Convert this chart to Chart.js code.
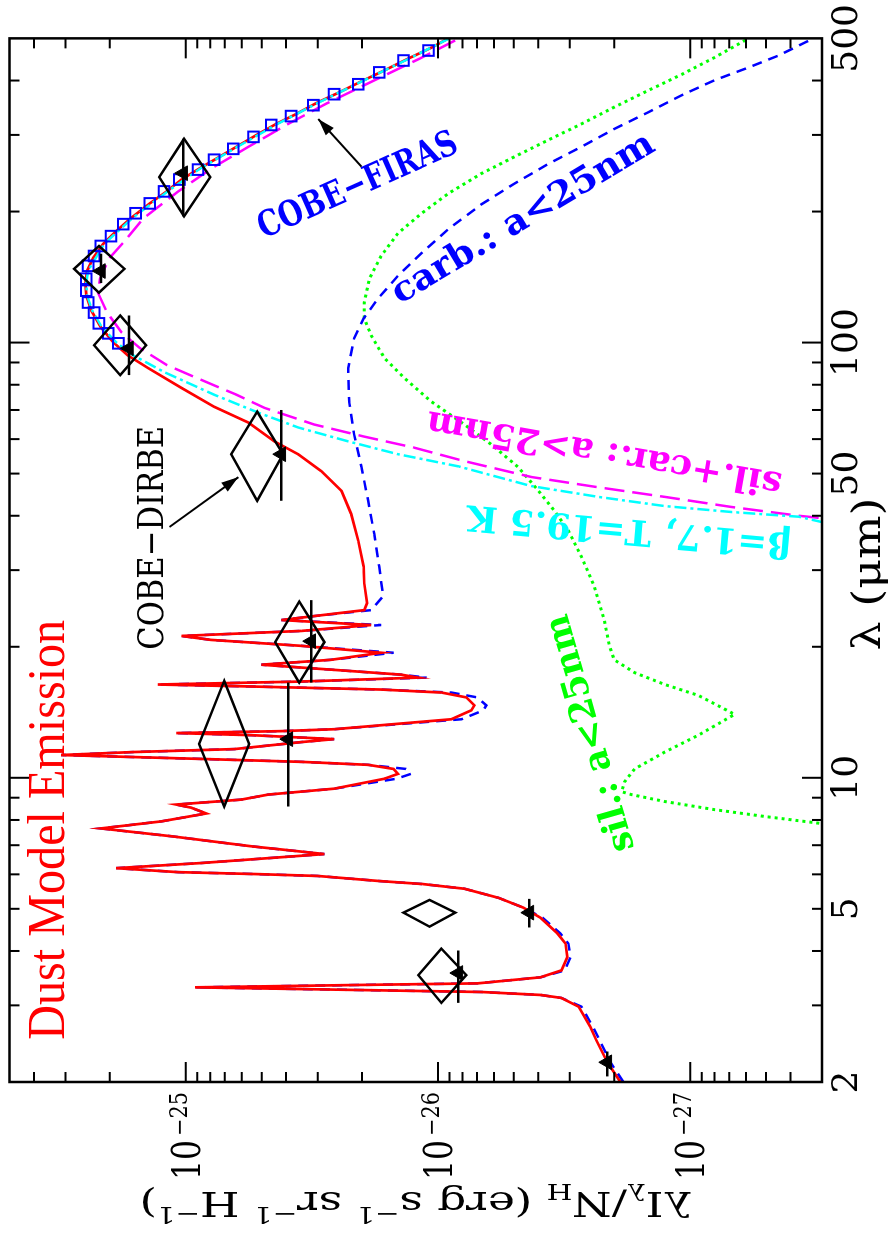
<!DOCTYPE html>
<html><head><meta charset="utf-8">
<script src="https://cdn.jsdelivr.net/npm/chart.js@4"></script>
<style>
html,body{margin:0;padding:0;background:#fff;overflow:hidden;width:895px;height:1240px;}
#wrap{position:absolute;left:0;top:0;width:1240px;height:895px;transform-origin:0 0;transform:translate(0,1240px) rotate(-90deg);}
canvas{display:block}
</style></head><body>
<div id="wrap"><canvas id="c" width="1240" height="895"></canvas></div>
<script>
// ---------- data (wavelength in micron, lambda*I_lambda/N_H in erg s^-1 sr^-1 H^-1) ----------
const totalLam = [2.0,2.22,2.5,2.68,2.98,3.12,3.17,3.22,3.27,3.30,3.34,3.37,3.48,3.61,3.87,4.16,4.39,4.77,5.03,5.30,5.56,5.70,5.79,5.95,6.01,6.07,6.20,6.37,6.68,6.96,7.34,7.65,7.94,8.28,8.54,8.68,8.91,9.15,9.44,9.95,10.21,10.48,10.71,10.88,11.05,11.28,11.46,11.64,12.08,12.27,12.53,12.67,12.80,12.93,13.63,14.29,14.67,15.30,15.70,15.95,16.21,16.38,16.64,16.99,17.26,17.72,18.19,18.67,19.38,20.10,20.74,21.18,21.75,22.44,23.04,23.53,24.28,25.19,27.98,30.59,35.06,40.41,45.59,50.63,55.36,59.27,65.46,71.20,78.66,87.38,93.55,100.2,108.4,118.5,128.2,136.5,146.2,156.5,168.4,180.3,193.1,208.8,222.5,236.9,251.0,264.5,281.7,300.0,317.9,335.0,354.8,375.9,398.4,422.0,449.4,476.2,500];
const totalI = [1.89e-27,2.13e-27,2.36e-27,2.49e-27,2.77e-27,3.24e-27,3.92e-27,6.73e-27,3.48e-26,9.19e-26,2.21e-26,6.98e-27,3.92e-27,3.24e-27,3.07e-27,3.12e-27,3.36e-27,3.92e-27,4.58e-27,5.76e-27,7.85e-27,1.15e-26,1.70e-26,3.01e-26,5.34e-26,1.07e-25,1.89e-25,8.69e-26,2.82e-26,5.49e-26,1.14e-25,2.17e-25,1.25e-25,8.30e-26,9.53e-26,1.09e-25,6.02e-26,4.71e-26,2.58e-26,1.63e-26,1.44e-26,1.50e-26,1.89e-26,3.48e-26,8.69e-26,3.12e-25,1.61e-25,6.42e-26,3.48e-26,2.58e-26,5.49e-26,1.09e-25,4.18e-26,2.58e-26,8.85e-27,7.37e-27,7.17e-27,7.71e-27,9.69e-27,1.68e-26,5.49e-26,1.29e-25,3.48e-26,1.20e-26,1.40e-26,2.65e-26,5.02e-26,2.65e-26,1.68e-26,3.48e-26,7.93e-26,1.04e-25,3.48e-26,1.84e-26,4.18e-26,3.09e-26,1.96e-26,1.91e-26,1.96e-26,1.97e-26,2.07e-26,2.21e-26,2.41e-26,2.90e-26,3.58e-26,4.45e-26,5.64e-26,7.72e-26,1.04e-25,1.41e-25,1.70e-25,1.94e-25,2.17e-25,2.37e-25,2.48e-25,2.50e-25,2.46e-25,2.33e-25,2.13e-25,1.89e-25,1.65e-25,1.39e-25,1.19e-25,1.04e-25,8.85e-26,7.57e-26,6.30e-26,5.24e-26,4.38e-26,3.65e-26,3.04e-26,2.46e-26,2.01e-26,1.63e-26,1.31e-26,1.06e-26,9.09e-27];

const carbLam = [2.0,2.22,2.5,2.68,2.98,3.12,3.17,3.22,3.27,3.30,3.34,3.37,3.48,3.61,3.87,4.16,4.39,4.77,5.03,5.30,5.56,5.70,5.79,5.95,6.01,6.07,6.20,6.37,6.68,6.96,7.34,7.65,7.94,8.28,8.54,8.68,8.91,9.15,9.44,9.95,10.21,10.48,10.71,10.88,11.05,11.28,11.46,11.64,12.08,12.27,12.53,12.67,12.80,12.93,13.63,14.29,14.67,15.30,15.70,15.95,16.21,16.38,16.64,16.99,17.26,17.72,18.19,18.67,19.38,20.10,20.74,21.18,21.75,22.44,23.04,23.53,24.28,26.13,30.59,36.37,43.25,51.70,61.48,73.10,87.38,102.3,113.6,126.2,142.4,160.6,182.3,207.7,232.0,257.6,281.7,309.6,338.6,370.1,400.6,428.7,456.6,488.9,500];
const carbI = [1.84e-27,2.07e-27,2.29e-27,2.43e-27,2.70e-27,3.24e-27,3.92e-27,6.73e-27,3.48e-26,9.19e-26,2.21e-26,6.98e-27,3.92e-27,3.14e-27,2.98e-27,3.04e-27,3.27e-27,3.85e-27,4.58e-27,5.76e-27,7.85e-27,1.15e-26,1.70e-26,3.01e-26,5.34e-26,1.07e-25,1.89e-25,8.69e-26,2.82e-26,5.49e-26,1.14e-25,2.17e-25,1.25e-25,8.30e-26,9.53e-26,1.09e-25,6.02e-26,4.71e-26,2.58e-26,1.46e-26,1.28e-26,1.34e-26,1.89e-26,3.48e-26,8.69e-26,3.12e-25,1.61e-25,6.42e-26,3.48e-26,2.58e-26,5.49e-26,1.09e-25,4.18e-26,2.58e-26,8.07e-27,6.61e-27,6.43e-27,6.98e-27,8.85e-27,1.68e-26,5.49e-26,1.29e-25,3.48e-26,1.11e-26,1.40e-26,2.65e-26,5.02e-26,2.65e-26,1.50e-26,3.48e-26,7.93e-26,1.04e-25,3.48e-26,1.68e-26,4.18e-26,3.09e-26,1.84e-26,1.65e-26,1.71e-26,1.79e-26,1.89e-26,2.01e-26,2.15e-26,2.25e-26,2.27e-26,2.15e-26,1.97e-26,1.73e-26,1.44e-26,1.16e-26,9.09e-27,6.73e-27,4.97e-27,3.64e-27,2.70e-27,2.00e-27,1.46e-27,1.08e-27,8.01e-28,5.86e-28,4.46e-28,3.51e-28,3.24e-28];

const bigLam = [39.15,39.5,40.0,41.9,44.2,46.5,49.1,53.4,57.4,60.8,64.8,70.8,75.9,82.1,88.8,97.1,105.6,117.2,130.2,140.2,155.7,172.9,193.1,222.5,251.0,281.7,317.9,354.8,398.4,449.4,500];
const bigI = [2.40e-28,3.01e-28,3.71e-28,6.85e-28,1.26e-27,2.31e-27,4.26e-27,7.85e-27,1.25e-26,1.96e-26,3.09e-26,4.88e-26,6.30e-26,8.69e-26,1.19e-25,1.52e-25,1.80e-25,2.05e-25,2.23e-25,2.19e-25,2.02e-25,1.72e-25,1.47e-25,1.07e-25,7.93e-26,5.64e-26,3.93e-26,2.75e-26,1.82e-26,1.18e-26,8.23e-27];

const bbLam = [38.3,38.7,39.8,40.8,42.1,44.2,46.8,51.95,55.4,59.3,63.8,69.0,75.9,85.6,93.55,100.2,108.4,118.5,128.2,136.5,146.2,168.4,193.1,222.5,251.0,281.7,317.9,354.8,398.4,449.4,500];
const bbI = [2.40e-28,3.01e-28,3.71e-28,6.85e-28,1.26e-27,2.31e-27,4.26e-27,8.30e-27,1.44e-26,2.27e-26,3.58e-26,5.15e-26,7.72e-26,1.22e-25,1.62e-25,1.89e-25,2.15e-25,2.35e-25,2.46e-25,2.48e-25,2.44e-25,2.11e-25,1.63e-25,1.18e-25,8.77e-26,6.24e-26,4.33e-26,3.01e-26,2.00e-26,1.30e-26,9.01e-27];

const silLam = [7.69,7.85,8.15,8.45,8.82,9.15,9.29,9.79,10.48,11.46,12.53,13.99,15.46,16.38,17.44,18.67,20.10,23.04,27.54,32.23,36.95,41.05,45.6,51.7,58.3,64.8,73.1,82.9,92.1,103.9,113.6,123.6,140.2,158.1,178.4,198.2,220.1,244.5,267.3,292.3,317.9,347.5,379.9,413.1,451.8,500];
const silI = [2.1e-28,3.01e-28,5.07e-28,8.01e-28,1.26e-27,1.71e-27,1.87e-27,1.82e-27,1.66e-27,1.26e-27,9.27e-28,6.66e-28,9.27e-28,1.26e-27,1.66e-27,2.00e-27,2.09e-27,2.19e-27,2.40e-27,2.70e-27,3.04e-27,3.45e-27,3.99e-27,4.80e-27,6.14e-27,7.85e-27,1.06e-26,1.36e-26,1.63e-26,1.84e-26,1.96e-26,1.96e-26,1.87e-26,1.68e-26,1.44e-26,1.16e-26,9.09e-27,6.73e-27,4.97e-27,3.64e-27,2.70e-27,2.00e-27,1.46e-27,1.08e-27,8.01e-28,5.86e-28];

const firasLam = [99.6,105.0,110.7,117.2,123.6,131.6,140.2,150.1,158.1,166.7,175.6,187.1,198.2,208.8,222.5,236.9,249.7,263.1,278.7,296.9,316.2,331.4,351.1,372.1,392.2,417.6,444.7,468.8];
const firasI = [1.85e-25,2.03e-25,2.21e-25,2.31e-25,2.44e-25,2.48e-25,2.48e-25,2.44e-25,2.31e-25,2.17e-25,1.98e-25,1.77e-25,1.58e-25,1.39e-25,1.22e-25,1.06e-25,8.94e-26,7.72e-26,6.48e-26,5.39e-26,4.58e-26,3.82e-26,3.12e-26,2.58e-26,2.07e-26,1.71e-26,1.37e-26,1.09e-26];

const dirbeLam   = [240,147.7,98.6,55.4,20.5,11.96,4.90,3.52];
const dirbeLamLo = [195,130.2,84.2,43.3,16.55,8.59,4.55,3.04];
const dirbeLamHi = [294,166.7,115.4,69.4,25.4,16.7,5.24,4.05];
const dirbeI     = [1.015e-25,2.21e-25,1.82e-25,5.21e-26,3.55e-26,7.04e-26,1.08e-26,9.69e-27];
const dirbeILo   = [7.99e-26,1.75e-25,1.436e-25,4.11e-26,2.82e-26,5.60e-26,8.53e-27,7.72e-27];
const dirbeIHi   = [1.275e-25,2.77e-25,2.31e-25,6.60e-26,4.42e-26,8.85e-26,1.37e-26,1.196e-26];

const obsLam   = [245,146,97,55.4,20.6,12.27,4.90,3.56,2.22];
const obsLamLo = [195,137,84.2,43.3,16.55,8.59,4.53,3.04,2.06];
const obsLamHi = [294,160,115.4,70,25.6,16.55,5.27,4.01,2.35];
const obsI     = [1.024e-25,2.17e-25,1.68e-25,4.18e-26,3.18e-26,3.92e-26,4.34e-27,8.30e-27,2.13e-27];

const xMinorTicks = [3,4,5,6,7,8,9,20,30,40,50,60,70,80,90,200,300,400];
const xMajorTicks = [10,100];
const xTickLabels = [2,5,10,50,100,500];
const yMinorTicks = [4e-28,5e-28,6e-28,7e-28,8e-28,9e-28,2e-27,3e-27,4e-27,5e-27,6e-27,7e-27,8e-27,9e-27,2e-26,3e-26,4e-26,5e-26,6e-26,7e-26,8e-26,9e-26,2e-25,3e-25,4e-25];
const yMajorTicks = [1e-27,1e-26,1e-25];
const yLabelValues = [1e-25,1e-26,1e-27];
const yLabelExps = ['\u221225','\u221226','\u221227'];

// ---------- helpers ----------
const pts = (L, I) => L.map((l, i) => ({x: l, y: I[i]}));
const SERIF = "'DejaVu Serif', serif";

function drawFit(ctx, text, x, y, o) {
  ctx.save();
  const w8 = o.weight || 'normal';
  ctx.font = w8 + ' 100px ' + o.family;
  const cap = ctx.measureText('H').actualBoundingBoxAscent / 100;
  const size = o.capH / cap;
  ctx.font = w8 + ' ' + size.toFixed(2) + 'px ' + o.family;
  const w = ctx.measureText(text).width;
  const sx = o.width ? o.width / w : 1;
  ctx.translate(x, y);
  ctx.rotate((o.angle || 0) * Math.PI / 180);
  ctx.scale(sx, 1);
  ctx.textAlign = o.align || 'center';
  ctx.textBaseline = o.base || 'alphabetic';
  ctx.fillStyle = o.color || '#000';
  ctx.fillText(text, 0, 0);
  ctx.restore();
}

function arrow(ctx, x1, y1, x2, y2) {
  ctx.beginPath(); ctx.moveTo(x1, y1); ctx.lineTo(x2, y2); ctx.stroke();
  const a = Math.atan2(y2 - y1, x2 - x1), L = 17, W = 5.5;
  ctx.beginPath();
  ctx.moveTo(x2, y2);
  ctx.lineTo(x2 - L * Math.cos(a) + W * Math.sin(a), y2 - L * Math.sin(a) - W * Math.cos(a));
  ctx.lineTo(x2 - L * Math.cos(a) - W * Math.sin(a), y2 - L * Math.sin(a) + W * Math.cos(a));
  ctx.closePath(); ctx.fill();
}

const markers = {
  id: 'markers',
  afterDatasetsDraw(chart) {
    const {ctx, chartArea: a, scales: {x, y}} = chart;
    ctx.save();
    ctx.beginPath(); ctx.rect(a.left, a.top, a.right - a.left, a.bottom - a.top); ctx.clip();
    ctx.strokeStyle = '#000'; ctx.lineWidth = 2.5; ctx.lineJoin = 'miter';
    dirbeLam.forEach((l, k) => {
      const xl = x.getPixelForValue(dirbeLamLo[k]), xr = x.getPixelForValue(dirbeLamHi[k]);
      const xc = x.getPixelForValue(l), yc = y.getPixelForValue(dirbeI[k]);
      const yt = y.getPixelForValue(dirbeIHi[k]), yb = y.getPixelForValue(dirbeILo[k]);
      ctx.beginPath(); ctx.moveTo(xl, yc); ctx.lineTo(xc, yt); ctx.lineTo(xr, yc); ctx.lineTo(xc, yb); ctx.closePath(); ctx.stroke();
    });
    obsLam.forEach((l, k) => {
      const yy = y.getPixelForValue(obsI[k]);
      ctx.beginPath(); ctx.moveTo(x.getPixelForValue(obsLamLo[k]), yy); ctx.lineTo(x.getPixelForValue(obsLamHi[k]), yy); ctx.stroke();
    });
    ctx.restore();
  }
};

const frame = {
  id: 'frame',
  afterDraw(chart) {
    const {ctx, chartArea: a, scales: {x, y}} = chart;
    ctx.save();
    ctx.strokeStyle = '#000'; ctx.fillStyle = '#000';
    ctx.lineWidth = 2;
    const vt = (v, len) => { const p = x.getPixelForValue(v);
      ctx.beginPath(); ctx.moveTo(p, a.bottom); ctx.lineTo(p, a.bottom - len); ctx.moveTo(p, a.top); ctx.lineTo(p, a.top + len); ctx.stroke(); };
    const ht = (v, len) => { const p = y.getPixelForValue(v);
      ctx.beginPath(); ctx.moveTo(a.left, p); ctx.lineTo(a.left + len, p); ctx.moveTo(a.right, p); ctx.lineTo(a.right - len, p); ctx.stroke(); };
    xMinorTicks.forEach(v => vt(v, 10)); xMajorTicks.forEach(v => vt(v, 20));
    yMinorTicks.forEach(v => ht(v, 10)); yMajorTicks.forEach(v => ht(v, 20));
    ctx.lineWidth = 2.5;
    ctx.strokeRect(a.left, a.top, a.right - a.left, a.bottom - a.top);

    yLabelValues.forEach((v, k) => {
      const p = y.getPixelForValue(v);
      drawFit(ctx, '10', 100, p + 14, {family: SERIF, capH: 28, width: 40, align: 'right'});
      drawFit(ctx, yLabelExps[k], 104, p + 1, {family: SERIF, capH: 17, width: 44, align: 'left'});
    });

    drawFit(ctx, '\u03BB (\u03BCm)', 666, 880, {family: SERIF, capH: 29, width: 153});

    const segs = [['\u03BBI',0],['\u03BB',1],['/N',0],['H',1],[' (erg s',0],['\u22121',2],[' sr',0],['\u22121',2],[' H',0],['\u22121',2],[')',0]];
    const F = 34, f = 22;
    let W = 0;
    segs.forEach(s => { ctx.font = (s[1] ? f : F) + 'px ' + SERIF; W += ctx.measureText(s[0]).width; });
    const target = 553, sx = target / W;
    ctx.save();
    ctx.translate(48, (a.top + a.bottom) / 2);
    ctx.rotate(-Math.PI / 2);
    ctx.scale(sx, 1);
    ctx.textAlign = 'left'; ctx.textBaseline = 'alphabetic';
    let cx = -W / 2;
    segs.forEach(s => {
      ctx.font = (s[1] ? f : F) + 'px ' + SERIF;
      const dy = s[1] === 1 ? 8 : (s[1] === 2 ? -15 : 0);
      ctx.fillText(s[0], cx, dy);
      cx += ctx.measureText(s[0]).width;
    });
    ctx.restore();

    const px = (l, i) => [x.getPixelForValue(l), y.getPixelForValue(i)];
    let q;
    q = px(2.5, 3.04e-25);
    drawFit(ctx, 'Dust Model Emission', q[0], q[1], {family: "'Liberation Serif', serif", capH: 34, width: 420, align: 'left', color: '#ff0000'});
    q = px(19.68, 1.23e-25);
    drawFit(ctx, 'COBE\u2212DIRBE', q[0], q[1], {family: SERIF, capH: 26, width: 224, align: 'left', color: '#000'});
    q = px(228.4, 2.07e-26);
    drawFit(ctx, 'COBE\u2212FIRAS', q[0], q[1], {family: SERIF, weight: 'bold', capH: 26, width: 215, base: 'middle', angle: 66, color: '#0000ff'});
    q = px(192.0, 4.58e-27);
    drawFit(ctx, 'carb.: a<25nm', q[0], q[1], {family: SERIF, weight: 'bold', capH: 26, width: 300, base: 'middle', angle: 59, color: '#0000ff'});
    q = px(56.2, 2.19e-27);
    drawFit(ctx, 'sil.+car.: a>25nm', q[0], q[1], {family: SERIF, weight: 'bold', capH: 26, width: 360, base: 'middle', angle: -80, color: '#ff00ff'});
    q = px(37.33, 1.75e-27);
    drawFit(ctx, '\u03B2=1.7, T=19.5 K', q[0], q[1], {family: SERIF, weight: 'bold', capH: 26, width: 325, base: 'middle', angle: -85, color: '#00ffff'});
    q = px(12.67, 2.46e-27);
    drawFit(ctx, 'sil.: a<25nm', q[0], q[1], {family: SERIF, weight: 'bold', capH: 26, width: 245, base: 'middle', angle: -16, color: '#00ff00'});

    ctx.lineWidth = 2;
    let t = px(253.6, 2.01e-26), h = px(326.3, 2.98e-26);
    arrow(ctx, t[0], t[1], h[0], h[1]);
    t = px(37.7, 1.16e-25); h = px(49.06, 6.19e-26);
    arrow(ctx, t[0], t[1], h[0], h[1]);
    ctx.restore();
  }
};

const lineDs = (label, L, I, color, dash, order, width) => ({
  label, data: pts(L, I), showLine: true, borderColor: color, borderWidth: width || 2.5,
  borderDash: dash, pointRadius: 0, tension: 0, fill: false, clip: 0, order
});

new Chart(document.getElementById('c'), {
  type: 'scatter',
  data: {
    datasets: [
      lineDs('sil.: a<25nm', silLam, silI, '#00ff00', [3, 4], 6, 3),
      lineDs('carb.: a<25nm', carbLam, carbI, '#0000ff', [10, 7], 5),
      lineDs('sil.+car.: a>25nm', bigLam, bigI, '#ff00ff', [20, 8], 4),
      lineDs('total', totalLam, totalI, '#ff0000', [], 3, 2.7),
      lineDs('beta=1.7, T=19.5 K', bbLam, bbI, '#00ffff', [12, 4, 3, 4], 2),
      {label: 'COBE-FIRAS', data: pts(firasLam, firasI), showLine: false, pointStyle: 'rect',
       pointRadius: 7.5, borderColor: '#0000ff', backgroundColor: 'rgba(0,0,0,0)', pointBorderWidth: 2, order: 1},
      {label: 'observed', data: pts(obsLam, obsI), showLine: false, pointStyle: 'triangle',
       pointRadius: 8.5, borderColor: '#000', backgroundColor: '#000', pointBorderWidth: 1, order: 0}
    ]
  },
  options: {
    responsive: false, animation: false, devicePixelRatio: 1,
    layout: {padding: {top: 9, right: 31, left: 0, bottom: 0}},
    plugins: {legend: {display: false}, tooltip: {enabled: false}},
    scales: {
      x: {
        type: 'logarithmic', position: 'bottom', min: 2, max: 500,
        afterBuildTicks: s => { s.ticks = [2, ...xMinorTicks, ...xMajorTicks, 500].sort((p, q) => p - q).map(v => ({value: v})); },
        afterFit: s => { s.height = 73; },
        grid: {display: false, drawTicks: false}, border: {display: false},
        ticks: {autoSkip: false, maxRotation: 0, minRotation: 0, padding: 4, color: '#000',
                font: {family: SERIF, size: 36},
                callback: v => xTickLabels.includes(v) ? String(v) : ''}
      },
      y: {
        type: 'logarithmic', position: 'left', min: 3e-28, max: 5e-25,
        afterFit: s => { s.width = 158; },
        grid: {display: false, drawTicks: false}, border: {display: false},
        ticks: {display: false}
      }
    }
  },
  plugins: [markers, frame]
});
</script>
</body></html>
